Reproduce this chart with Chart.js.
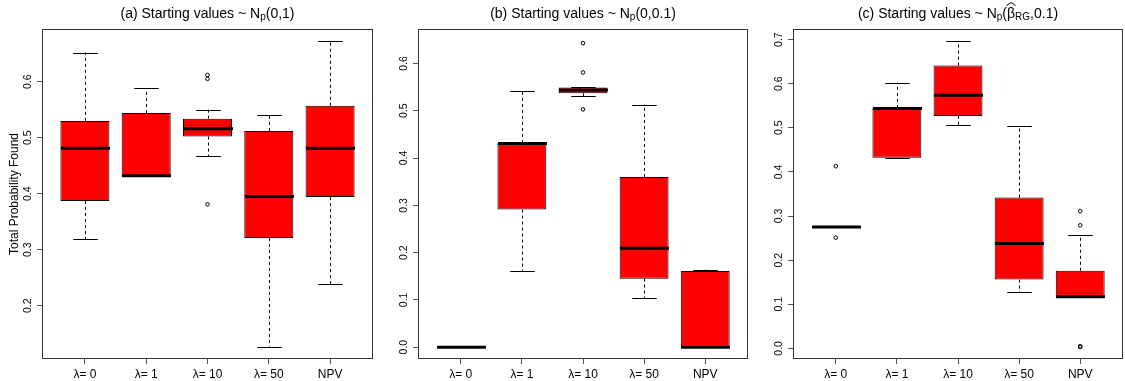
<!DOCTYPE html>
<html><head><meta charset="utf-8">
<script src="https://cdn.jsdelivr.net/npm/chart.js@4.4.0/dist/chart.umd.min.js"></script>
<style>
html,body{margin:0;padding:0;background:#fff;overflow:hidden;width:1125px;height:381px}
.panel{position:absolute;top:0;width:378px;height:381px}
canvas{display:block}
</style></head><body>
<div class="panel" style="left:0"><canvas id="ca" width="378" height="381"></canvas></div>
<div class="panel" style="left:375px"><canvas id="cb" width="378" height="381"></canvas></div>
<div class="panel" style="left:750px"><canvas id="cc" width="378" height="381"></canvas></div>
<script>
// ---------- data ----------
const categories = ['λ= 0', 'λ= 1', 'λ= 10', 'λ= 50', 'NPV'];
const positions = [1, 2, 3, 4, 5];

// panel (a)
const aLow  = [0.319, 0.431, 0.467, 0.127, 0.239];
const aQ1   = [0.387, 0.431, 0.502, 0.321, 0.394];
const aMed  = [0.481, 0.432, 0.516, 0.395, 0.481];
const aQ3   = [0.530, 0.544, 0.534, 0.512, 0.557];
const aHigh = [0.652, 0.588, 0.550, 0.540, 0.673];
const aOutX = [3, 3, 3];
const aOutY = [0.612, 0.605, 0.381];
const aTicks = [0.2, 0.3, 0.4, 0.5, 0.6];
const aRange = [0.105, 0.694];

// panel (b)
const bLow  = [0, 0.161, 0.531, 0.103, 0];
const bQ1   = [0, 0.291, 0.537, 0.145, 0];
const bMed  = [0, 0.431, 0.544, 0.209, 0];
const bQ3   = [0, 0.432, 0.549, 0.360, 0.161];
const bHigh = [0, 0.542, 0.550, 0.513, 0.164];
const bOutX = [3, 3, 3];
const bOutY = [0.643, 0.581, 0.503];
const bTicks = [0.0, 0.1, 0.2, 0.3, 0.4, 0.5, 0.6];
const bRange = [-0.025, 0.673];

// panel (c)
const cLow  = [0.275, 0.432, 0.507, 0.128, 0.116];
const cQ1   = [0.275, 0.432, 0.527, 0.156, 0.116];
const cMed  = [0.275, 0.544, 0.574, 0.238, 0.117];
const cQ3   = [0.275, 0.545, 0.641, 0.342, 0.176];
const cHigh = [0.275, 0.602, 0.697, 0.503, 0.257];
const cOutX = [1, 1, 5, 5, 5, 5];
const cOutY = [0.413, 0.251, 0.311, 0.279, 0.005, 0.003];
const cTicks = [0.0, 0.1, 0.2, 0.3, 0.4, 0.5, 0.6, 0.7];
const cRange = [-0.024, 0.724];

const yTitle = 'Total Probability Found';
const titleA = [{t:'(a) Starting values ~ N'}, {t:'p', sub:true}, {t:'(0,1)'}];
const titleB = [{t:'(b) Starting values ~ N'}, {t:'p', sub:true}, {t:'(0,0.1)'}];
const titleC = [{t:'(c) Starting values ~ N'}, {t:'p', sub:true}, {t:'('}, {t:'β', hat:true}, {t:'RG', sub:true}, {t:',0.1)'}];

// ---------- drawing ----------
const FONT = '"Liberation Sans", Arial, Helvetica, sans-serif';
Chart.defaults.font.family = FONT;
Chart.defaults.color = '#000';

function boxPlugin(cfg) {
  return {
    id: 'boxparts',
    afterDatasetsDraw(chart) {
      const ctx = chart.ctx, xs = chart.scales.x, ys = chart.scales.y;
      const meta = chart.getDatasetMeta(0);
      ctx.save();
      ctx.strokeStyle = '#000';
      positions.forEach((p, i) => {
        const bar = meta.data[i];
        const cx = Math.round(xs.getPixelForValue(p)) + 0.5;
        const hw = bar.width / 2;
        const yLo = ys.getPixelForValue(cfg.low[i]);
        const yQ1 = ys.getPixelForValue(cfg.q1[i]);
        const yMed = ys.getPixelForValue(cfg.med[i]);
        const yQ3 = ys.getPixelForValue(cfg.q3[i]);
        const yHi = ys.getPixelForValue(cfg.high[i]);
        ctx.lineWidth = 1;
        ctx.setLineDash([3, 3]);
        ctx.beginPath();
        if (yHi < yQ3 - 0.5) { ctx.moveTo(cx, yQ3); ctx.lineTo(cx, yHi); }
        if (yLo > yQ1 + 0.5) { ctx.moveTo(cx, yQ1); ctx.lineTo(cx, yLo); }
        ctx.stroke();
        ctx.setLineDash([]);
        ctx.beginPath();
        ctx.moveTo(cx - hw / 2, Math.round(yHi) + 0.5); ctx.lineTo(cx + hw / 2, Math.round(yHi) + 0.5);
        ctx.moveTo(cx - hw / 2, Math.round(yLo) + 0.5); ctx.lineTo(cx + hw / 2, Math.round(yLo) + 0.5);
        ctx.stroke();
        ctx.lineWidth = 3;
        ctx.beginPath();
        ctx.moveTo(cx - hw, yMed); ctx.lineTo(cx + hw, yMed);
        ctx.stroke();
      });
      ctx.restore();
    },
    afterDraw(chart) {
      const ctx = chart.ctx, a = chart.chartArea;
      ctx.save();
      ctx.strokeStyle = '#333';
      ctx.lineWidth = 1;
      ctx.strokeRect(Math.round(a.left) + 0.5, Math.round(a.top) + 0.5,
                     Math.round(a.right - a.left) - 1, Math.round(a.bottom - a.top) - 1);
      // title with subscripts
      const parts = cfg.title;
      const MAIN = '14px ' + FONT, SUB = '10px ' + FONT;
      let total = 0;
      parts.forEach(p => { ctx.font = p.sub ? SUB : MAIN; p.w = ctx.measureText(p.t).width; total += p.w; });
      let x = (a.left + a.right) / 2 - total / 2;
      ctx.fillStyle = '#000';
      ctx.textAlign = 'left';
      ctx.textBaseline = 'alphabetic';
      parts.forEach(p => {
        ctx.font = p.sub ? SUB : MAIN;
        ctx.fillText(p.t, x, p.sub ? 20 : 17.5);
        if (p.hat) {
          ctx.lineWidth = 1;
          ctx.strokeStyle = '#000';
          ctx.beginPath();
          ctx.moveTo(x - 0.5, 5.5); ctx.lineTo(x + p.w / 2, 2.5); ctx.lineTo(x + p.w + 0.5, 5.5);
          ctx.stroke();
        }
        x += p.w;
      });
      ctx.restore();
    }
  };
}

function buildPanel(id, cfg) {
  const boxData = positions.map((x, i) => ({x: x, y: [cfg.q1[i], cfg.q3[i]]}));
  const outData = cfg.outX.map((x, i) => ({x: x, y: cfg.outY[i]}));
  return new Chart(document.getElementById(id), {
    type: 'bar',
    data: {
      datasets: [
        {type: 'bar', data: boxData, backgroundColor: '#ff0000', borderColor: '#000',
         borderWidth: 1, borderSkipped: false, barPercentage: 0.8, categoryPercentage: 1},
        {type: 'scatter', data: outData, pointStyle: 'circle', pointRadius: 1.8,
         pointBorderWidth: 1, pointBackgroundColor: 'rgba(255,255,255,0)', pointBorderColor: '#000'}
      ]
    },
    options: {
      responsive: false,
      animation: false,
      events: [],
      layout: {padding: {top: 29, left: 0, right: 2, bottom: 0}},
      plugins: {legend: {display: false}, tooltip: {enabled: false}, title: {display: false}},
      scales: {
        x: {
          type: 'linear', min: 0.3, max: 5.7, offset: false,
          afterBuildTicks: s => { s.ticks = positions.map(v => ({value: v})); },
          afterFit: s => { s.height = 22; },
          grid: {display: true, drawOnChartArea: false, drawTicks: true, tickLength: 5, color: '#555', offset: false},
          border: {display: false},
          ticks: {callback: (v, i) => categories[i], font: {size: 12}, color: '#000', padding: 3,
                  maxRotation: 0, minRotation: 0, autoSkip: false}
        },
        y: {
          type: 'linear', min: cfg.range[0], max: cfg.range[1],
          afterBuildTicks: s => { s.ticks = cfg.ticks.map(v => ({value: v})); },
          afterFit: s => { s.width = cfg.left; },
          grid: {display: true, drawOnChartArea: false, drawTicks: true, tickLength: 5, color: '#555'},
          border: {display: false},
          ticks: {callback: v => v.toFixed(1), minRotation: 90, maxRotation: 90, crossAlign: 'center',
                  padding: 2, font: {size: 10.5}, color: '#000', autoSkip: false},
          title: cfg.yTitle ? {display: true, text: cfg.yTitle, font: {size: 12}, color: '#000',
                               padding: {top: 7.8, bottom: 0}} : {display: false}
        }
      }
    },
    plugins: [boxPlugin(cfg)]
  });
}

buildPanel('ca', {low: aLow, q1: aQ1, med: aMed, q3: aQ3, high: aHigh, outX: aOutX, outY: aOutY,
                  ticks: aTicks, range: aRange, left: 42, yTitle: yTitle, title: titleA});
buildPanel('cb', {low: bLow, q1: bQ1, med: bMed, q3: bQ3, high: bHigh, outX: bOutX, outY: bOutY,
                  ticks: bTicks, range: bRange, left: 43, yTitle: null, title: titleB});
buildPanel('cc', {low: cLow, q1: cQ1, med: cMed, q3: cQ3, high: cHigh, outX: cOutX, outY: cOutY,
                  ticks: cTicks, range: cRange, left: 43, yTitle: null, title: titleC});
</script>
</body></html>
